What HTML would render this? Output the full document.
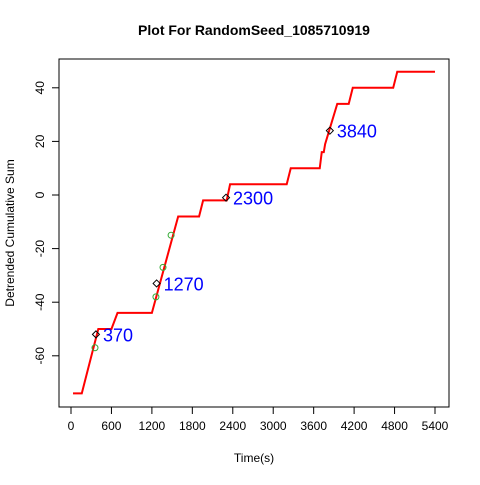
<!DOCTYPE html>
<html><head><meta charset="utf-8"><style>body{margin:0;background:#fff}svg text{font-family:"Liberation Sans",sans-serif}</style></head>
<body>
<svg id="c" width="480" height="480" xmlns="http://www.w3.org/2000/svg">
<rect width="480" height="480" fill="#fff"/>
<text x="254" y="35" text-anchor="middle" font-size="14" font-weight="bold">Plot For RandomSeed_1085710919</text>
<rect x="59" y="59" width="390" height="348" fill="none" stroke="#000"/>
<text x="254" y="462" text-anchor="middle" font-size="12">Time(s)</text>
<text transform="translate(14,233) rotate(-90)" text-anchor="middle" font-size="12">Detrended Cumulative Sum</text>
<g id="g"></g>
</svg>
<script>
const stepT=[30,160,405,600,690,1200,1590,1900,1960,2310,2360,3200,3260,3690,3720,3750,3770,3950,4120,4180,4780,4840,5400];
const stepV=[-74,-74,-50,-50,-44,-44,-8,-8,-2,-2,4,4,10,10,16,16,19,34,34,40,40,46,46];
const markT=[370,1270,2300,3840];
const markV=[-52,-33,-1,24];
const circT=[356,1260,1365,1485];
const circV=[-57,-38,-27,-15];
const xTicks=[0,600,1200,1800,2400,3000,3600,4200,4800,5400];
const yTicks=[-60,-40,-20,0,20,40];
const X=t=>71+t*364/5400, Y=v=>195-v*2.68;
const g=document.getElementById('g'), NS='http://www.w3.org/2000/svg';
function mk(tag,a){const e=document.createElementNS(NS,tag);for(const k in a)e.setAttribute(k,a[k]);g.appendChild(e);return e;}
mk('line',{x1:X(0),x2:X(5400),y1:407,y2:407,stroke:'#000'});
xTicks.forEach(t=>{mk('line',{x1:X(t),x2:X(t),y1:407,y2:414,stroke:'#000'});
const e=mk('text',{x:X(t),y:430,'text-anchor':'middle','font-size':12});e.textContent=t;

});
mk('line',{x1:59,x2:59,y1:Y(-60),y2:Y(40),stroke:'#000'});
yTicks.forEach(v=>{mk('line',{x1:52,x2:59,y1:Y(v),y2:Y(v),stroke:'#000'});
const e=mk('text',{transform:`translate(44,${Y(v)}) rotate(-90)`,'text-anchor':'middle','font-size':12});e.textContent=v;

});
const p=mk('polyline',{points:stepT.map((t,i)=>X(t)+','+Y(stepV[i])).join(' '),fill:'none',stroke:'#f00','stroke-width':2});


circT.forEach((t,i)=>{const c=mk('circle',{cx:X(t),cy:Y(circV[i]),r:3,fill:'none',stroke:'#3a3'});

});
markT.forEach((t,i)=>{const x=X(t),y=Y(markV[i]);
const d=mk('polygon',{points:`${x},${y-3.5} ${x+3.5},${y} ${x},${y+3.5} ${x-3.5},${y}`,fill:'none',stroke:'#000'});


const e=mk('text',{x:x+7,y:y+7,'font-size':18,fill:'#00f'});e.textContent=t;

});
</script>
</body></html>
